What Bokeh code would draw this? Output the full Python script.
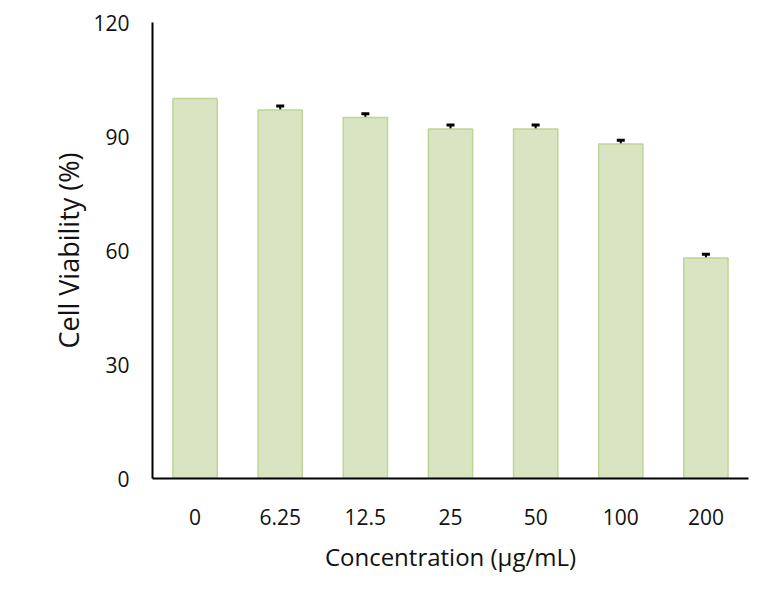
from bokeh.plotting import figure
from bokeh.models import ColumnDataSource, Whisker, TeeHead, FixedTicker, Range1d
from bokeh.embed import file_html
from bokeh.resources import INLINE

concentrations = ["0", "6.25", "12.5", "25", "50", "100", "200"]
viability = [100, 97, 95, 92, 92, 88, 58]
errors = [0, 1, 1, 1, 1, 1, 1]
y_ticks = [0, 30, 60, 90, 120]

upper = [v + e for v, e in zip(viability, errors)]
src = ColumnDataSource(dict(x=concentrations, top=viability, upper=upper))
err_src = ColumnDataSource(dict(x=[c for c, e in zip(concentrations, errors) if e > 0],
                                base=[v for v, e in zip(viability, errors) if e > 0],
                                upper=[u for u, e in zip(upper, errors) if e > 0]))

FONT = "Open Sans"
p = figure(x_range=concentrations, y_range=Range1d(0, 120), width=756, height=587,
           output_backend="svg", toolbar_location=None,
           min_border_left=152, min_border_right=8, min_border_top=22, min_border_bottom=109)
p.vbar(x="x", top="top", width=0.52, source=src, fill_color="#D9E4C2",
       line_color="#BFD496", line_width=1.5)

w = Whisker(base="x", upper="upper", lower="base", source=err_src, dimension="height",
            line_color="black", line_width=2,
            upper_head=TeeHead(size=8, line_width=3, line_color="black"), lower_head=None)
p.add_layout(w)

p.xgrid.visible = False
p.ygrid.visible = False
p.outline_line_color = None

p.yaxis.ticker = FixedTicker(ticks=y_ticks)
for ax in (p.xaxis[0], p.yaxis[0]):
    ax.axis_line_color = "black"
    ax.axis_line_width = 2
    ax.major_tick_line_color = None
    ax.minor_tick_line_color = None
    ax.major_label_text_font = FONT
    ax.major_label_text_font_size = "21px"
    ax.major_label_text_color = "#111111"
    ax.axis_label_text_font = FONT
    ax.axis_label_text_font_style = "normal"
    ax.axis_label_text_color = "#111111"

p.xaxis.axis_label_text_font_size = "24px"
p.yaxis.axis_label_text_font_size = "27px"
p.xaxis.axis_label = "Concentration (μg/mL)"
p.yaxis.axis_label = "Cell Viability (%)"
p.yaxis.major_label_standoff = 17
p.xaxis.major_label_standoff = 24
p.xaxis.axis_label_standoff = 12
p.yaxis.axis_label_standoff = 3

open("out.html", "w").write(file_html(p, INLINE))
